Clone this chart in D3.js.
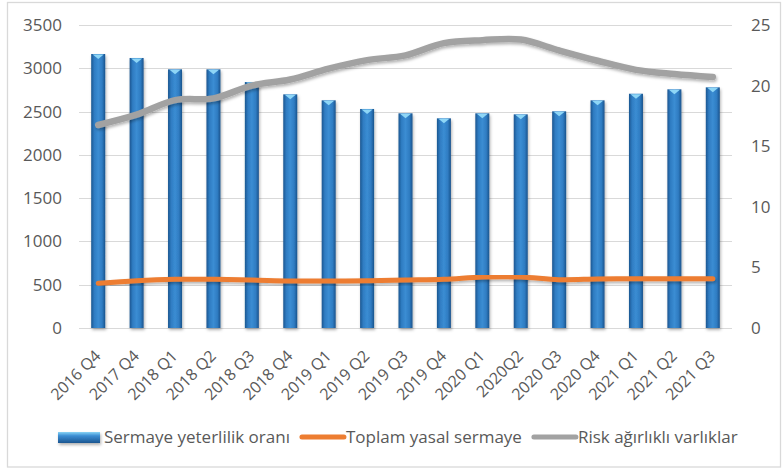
<!DOCTYPE html>
<html>
<head>
<meta charset="utf-8">
<title>Sermaye yeterlilik</title>
<script src="https://cdn.jsdelivr.net/npm/d3@7"></script>
<style>
  body { margin: 0; background: #fff; }
  text { font-family: "Open Sans", "Liberation Sans", sans-serif; fill: #595959; }
</style>
</head>
<body>
<svg id="chart" width="783" height="469"></svg>
<script>
// data
const quarters = ['2016 Q4', '2017 Q4', '2018 Q1', '2018 Q2', '2018 Q3', '2018 Q4', '2019 Q1', '2019 Q2',
  '2019 Q3', '2019 Q4', '2020 Q1', '2020Q2', '2020 Q3', '2020 Q4', '2021 Q1', '2021 Q2', '2021 Q3']
const capitalRatio = [3165, 3119, 2988, 2988, 2841, 2699, 2630, 2530, 2480, 2422, 2480, 2468, 2503, 2630, 2706, 2757, 2780]
const legalCapital = [516, 546, 562, 562, 554, 543, 543, 546, 554, 562, 589, 589, 558, 566, 570, 570, 570]
const riskAssets = [16.75, 17.6, 18.8, 18.95, 20.0, 20.5, 21.4, 22.1, 22.5, 23.5, 23.75, 23.8, 22.9, 22.05, 21.3, 20.95, 20.7]
const leftTicks = [0, 500, 1000, 1500, 2000, 2500, 3000, 3500]
const rightTicks = [0, 5, 10, 15, 20, 25]
const seriesNames = ['Sermaye yeterlilik oranı', 'Toplam yasal sermaye', 'Risk ağırlıklı varlıklar']

const svg = d3.select('#chart')
const plot = { left: 79, right: 732, top: 25, bottom: 328 }

const x = d3.scaleBand().domain(quarters).range([plot.left, plot.right])
const yLeft = d3.scaleLinear().domain([0, 3500]).range([plot.bottom, plot.top])
const yRight = d3.scaleLinear().domain([0, 25]).range([plot.bottom, plot.top])
const barW = 14
const cx = d => x(d) + x.bandwidth() / 2

const defs = svg.append('defs')
const grad = defs.append('linearGradient').attr('id', 'barGrad').attr('x1', 0).attr('x2', 1).attr('y1', 0).attr('y2', 0)
grad.append('stop').attr('offset', '0%').attr('stop-color', '#1b5690')
grad.append('stop').attr('offset', '22%').attr('stop-color', '#2f7cc2')
grad.append('stop').attr('offset', '50%').attr('stop-color', '#3b8dd3')
grad.append('stop').attr('offset', '78%').attr('stop-color', '#2f7cc2')
grad.append('stop').attr('offset', '100%').attr('stop-color', '#1a538c')

const lgrad = defs.append('linearGradient').attr('id', 'legGrad').attr('x1', 0).attr('x2', 0).attr('y1', 0).attr('y2', 1)
lgrad.append('stop').attr('offset', '0%').attr('stop-color', '#8ad4f5')
lgrad.append('stop').attr('offset', '35%').attr('stop-color', '#3b8dd3')
lgrad.append('stop').attr('offset', '100%').attr('stop-color', '#1b5690')

const shadow = defs.append('filter').attr('id', 'shadow').attr('x', '-20%').attr('y', '-20%').attr('width', '140%').attr('height', '160%')
shadow.append('feDropShadow').attr('dx', 1).attr('dy', 2).attr('stdDeviation', 1.5)
  .attr('flood-color', '#000').attr('flood-opacity', 0.3)

// border
svg.append('rect').attr('x', 7.5).attr('y', 2.5).attr('width', 773).attr('height', 464.5)
  .attr('fill', 'none').attr('stroke', '#d9d9d9').attr('stroke-width', 1.3)

// gridlines
svg.append('g').selectAll('line').data(leftTicks).join('line')
  .attr('x1', plot.left).attr('x2', plot.right)
  .attr('y1', d => Math.round(yLeft(d)) + 0.5).attr('y2', d => Math.round(yLeft(d)) + 0.5)
  .attr('stroke', '#d9d9d9').attr('stroke-width', 1.2)

// axis labels
svg.append('g').selectAll('text').data(leftTicks).join('text')
  .attr('x', 62).attr('y', d => yLeft(d)).attr('dy', '0.35em')
  .attr('text-anchor', 'end').attr('font-size', 17).text(d => d)

svg.append('g').selectAll('text').data(rightTicks).join('text')
  .attr('x', 751).attr('y', d => yRight(d)).attr('dy', '0.35em')
  .attr('text-anchor', 'start').attr('font-size', 17).text(d => d)

svg.append('g').selectAll('text').data(quarters).join('text')
  .attr('transform', d => `translate(${cx(d) + 3.5},357) rotate(-45)`)
  .attr('text-anchor', 'end').attr('font-size', 16).text(d => d)

// bars
const bars = svg.append('g').attr('filter', 'url(#shadow)')
bars.selectAll('rect').data(quarters).join('rect')
  .attr('x', d => cx(d) - barW / 2).attr('width', barW)
  .attr('y', (d, i) => yLeft(capitalRatio[i]))
  .attr('height', (d, i) => yLeft(0) - yLeft(capitalRatio[i]))
  .attr('fill', 'url(#barGrad)')
svg.append('g').selectAll('path').data(quarters).join('path')
  .attr('d', (d, i) => {
    const t = yLeft(capitalRatio[i]), l = cx(d) - barW / 2
    return `M${l + 1.5},${t + 0.5}L${l + barW - 1.5},${t + 0.5}L${l + barW / 2},${t + 5}Z`
  })
  .attr('fill', '#8ed6f6')

// lines
const lineRisk = d3.line().x(d => cx(d)).y((d, i) => yRight(riskAssets[i])).curve(d3.curveCatmullRom.alpha(0.5))
const lineLegal = d3.line().x(d => cx(d)).y((d, i) => yLeft(legalCapital[i])).curve(d3.curveCatmullRom.alpha(0.5))

svg.append('path').datum(quarters).attr('d', lineRisk)
  .attr('fill', 'none').attr('stroke', '#a2a2a2').attr('stroke-width', 6.5)
  .attr('stroke-linecap', 'round').attr('stroke-linejoin', 'round').attr('filter', 'url(#shadow)')
svg.append('path').datum(quarters).attr('d', lineLegal)
  .attr('fill', 'none').attr('stroke', '#ed7d31').attr('stroke-width', 5)
  .attr('stroke-linecap', 'round').attr('stroke-linejoin', 'round').attr('filter', 'url(#shadow)')

// legend
const legend = svg.append('g')
const legendY = 437
let lx = 58
seriesNames.forEach((name, i) => {
  if (i === 0) {
    legend.append('rect').attr('x', lx).attr('y', legendY - 5).attr('width', 42).attr('height', 11)
      .attr('fill', 'url(#legGrad)').attr('filter', 'url(#shadow)')
  } else {
    legend.append('line').attr('x1', lx + 2).attr('x2', lx + 44).attr('y1', legendY).attr('y2', legendY)
      .attr('stroke', i === 1 ? '#ed7d31' : '#a2a2a2').attr('stroke-width', 5).attr('stroke-linecap', 'round')
  }
  const t = legend.append('text').attr('x', lx + 46).attr('y', legendY).attr('dy', '0.35em')
    .attr('font-size', 17).text(name)
  lx += 46 + t.node().getComputedTextLength() + 10
})
</script>
</body>
</html>
